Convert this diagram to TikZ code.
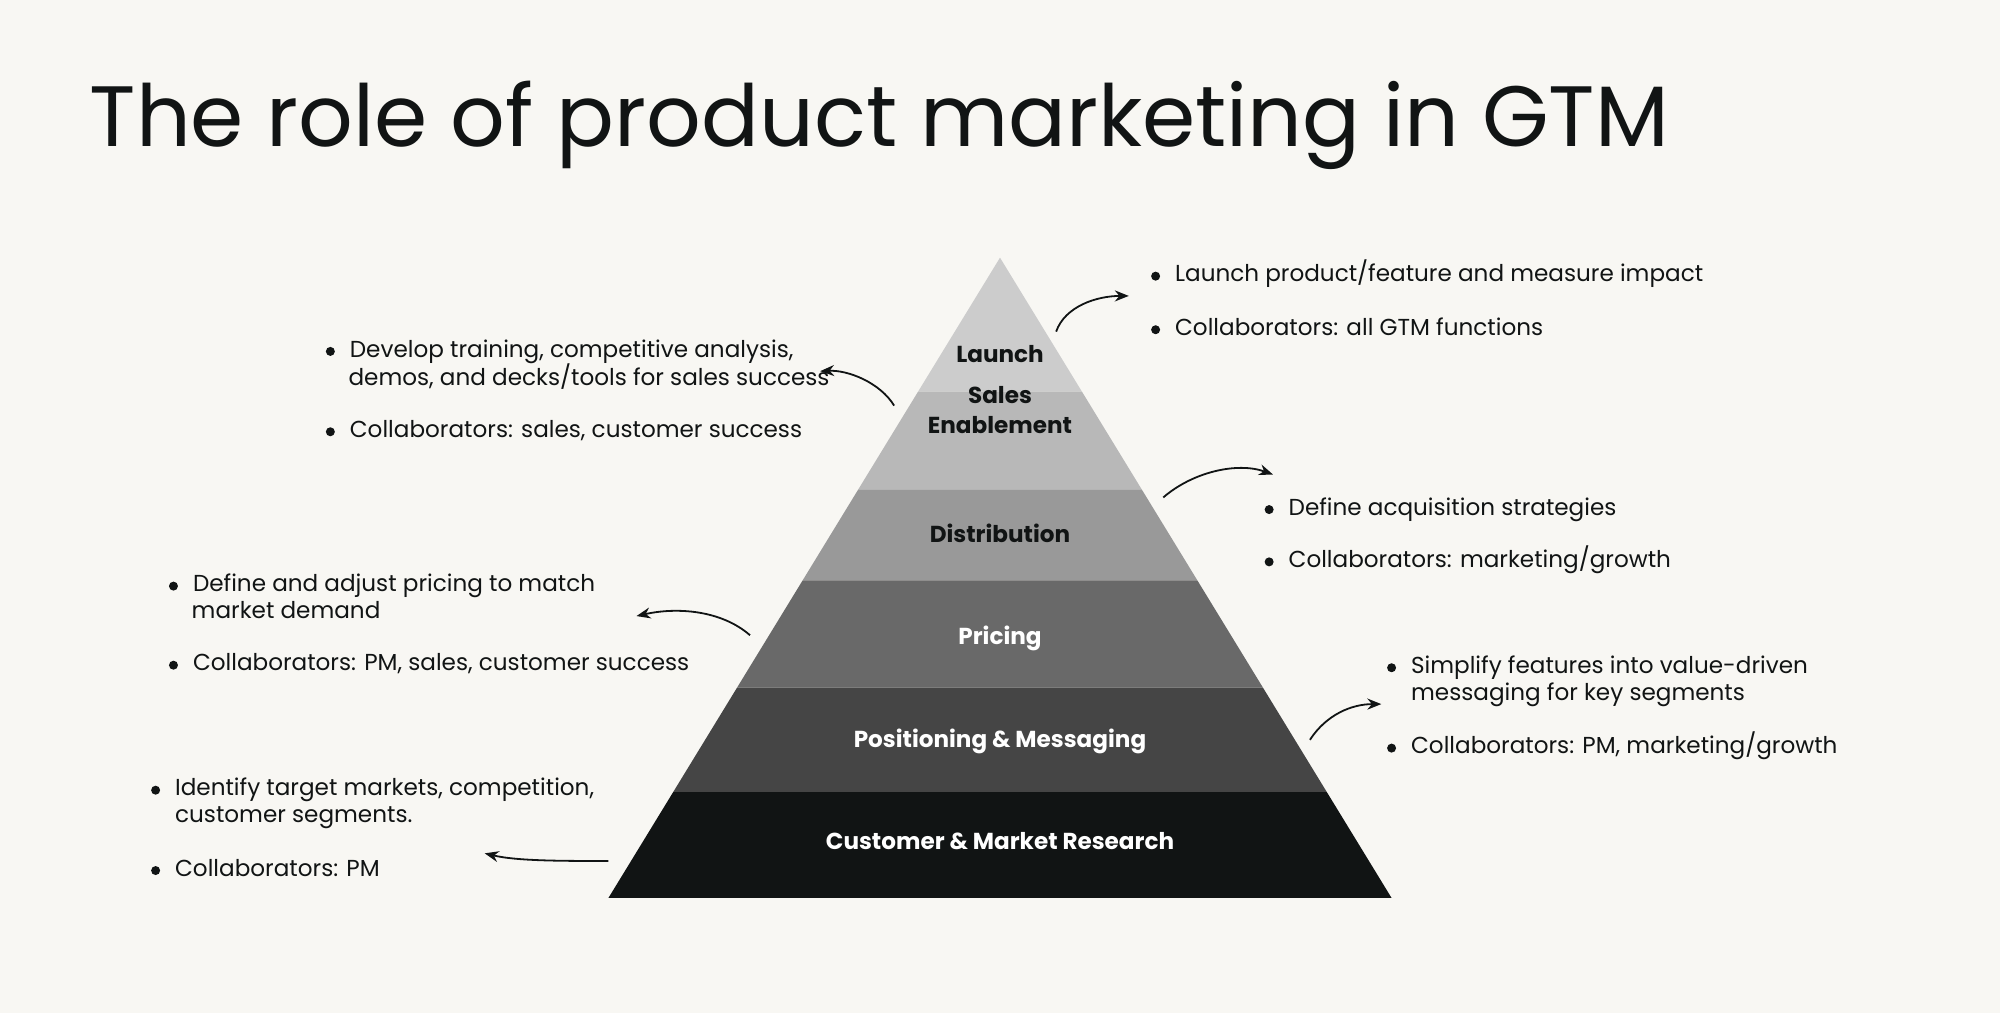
\documentclass[tikz,border=0pt]{standalone}
\usepackage{fontspec}
\setmainfont{Poppins}
\usetikzlibrary{arrows.meta}
\definecolor{bg}{HTML}{F8F7F3}
\definecolor{ink}{HTML}{111414}
\begin{document}
\begin{tikzpicture}[x=0.6378bp,y=-0.6378bp,
  txt/.style={anchor=base west,inner sep=0,text=ink,font=\fontsize{11.6}{14}\selectfont},
  dot/.style={circle,fill=ink,inner sep=0,minimum size=4.5bp},
  lab/.style={anchor=base,inner sep=0,font=\bfseries\fontsize{11.6}{15}\selectfont,align=center},
  arr/.style={-{Stealth[length=7bp,width=5.5bp]},line width=0.9bp,draw=ink}]
\fill[bg] (0,0) rectangle (1568,794);
\useasboundingbox (0,0) rectangle (1568,794);
\node[anchor=base west,inner sep=0,text=ink,font=\fontsize{43}{50}\selectfont] (title) at (70,115) {The role of product marketing in GTM};
% pyramid bands
\def\band#1#2#3{\pgfmathsetmacro\wa{(#1-202)*0.61155}\pgfmathsetmacro\wb{(#2-202)*0.61155}
 \fill[#3] (784-\wa,#1) -- (784+\wa,#1) -- (784+\wb,#2) -- (784-\wb,#2) -- cycle;}
\band{202}{307}{black!20}
\band{307}{384}{black!28}
\band{384}{455}{black!40}
\band{455}{539}{black!59}
\band{539}{621}{black!73}
\band{621}{704}{ink}
\node[lab,text=ink] (l1) at (784,284) {Launch};
\node[lab,text=ink] (l2) at (784,340) {Sales\\Enablement};
\node[lab,text=ink] (l3) at (784,425) {Distribution};
\node[lab,text=white] (l4) at (784,505) {Pricing};
\node[lab,text=white] (l5) at (784,586) {Positioning \& Messaging};
\node[lab,text=white] (l6) at (784,666) {Customer \& Market Research};
% texts
\newcommand\bul[4]{\node[dot] (#1d) at (#2,#3-4.5) {};\node[txt] (#1) at (#2+15,#3) {#4};}
\bul{a1}{906}{221}{Launch product/feature and measure impact}
\bul{a2}{906}{263}{Collaborators: all GTM functions}
\bul{b1}{259}{280}{Develop training, competitive analysis,}
\node[txt] (b1b) at (273,302) {demos, and decks/tools for sales success};
\bul{b2}{259}{343}{Collaborators: sales, customer success}
\bul{c1}{995}{404}{Define acquisition strategies}
\bul{c2}{995}{445}{Collaborators: marketing/growth}
\bul{d1}{136}{464}{Define and adjust pricing to match}
\node[txt] (d1b) at (150,485) {market demand};
\bul{d2}{136}{526}{Collaborators: PM, sales, customer success}
\bul{e1}{1091}{528}{Simplify features into value-driven}
\node[txt] (e1b) at (1106,549) {messaging for key segments};
\bul{e2}{1091}{591}{Collaborators: PM, marketing/growth}
\bul{f1}{122}{624}{Identify target markets, competition,}
\node[txt] (f1b) at (137,645) {customer segments.};
\bul{f2}{122}{687}{Collaborators: PM}
% arrows
\coordinate (s1) at (828,260); \coordinate (t1) at (885,232);
\coordinate (s2) at (701,318); \coordinate (t2) at (643,291);
\coordinate (s3) at (912,390); \coordinate (t3) at (998,372);
\coordinate (s4) at (588,498); \coordinate (t4) at (499,483);
\coordinate (s5) at (1027,580); \coordinate (t5) at (1083,552);
\coordinate (s6) at (477,675); \coordinate (t6) at (380,669);
\draw[arr] (s1) .. controls (835,240) and (860,232) .. (t1);
\draw[arr] (s2) .. controls (690,300) and (665,290) .. (t2);
\draw[arr] (s3) .. controls (935,370) and (970,362) .. (t3);
\draw[arr] (s4) .. controls (565,478) and (530,476) .. (t4);
\draw[arr] (s5) .. controls (1040,560) and (1060,552) .. (t5);
\draw[arr] (s6) .. controls (440,675) and (405,675) .. (t6);
\end{tikzpicture}
\end{document}
